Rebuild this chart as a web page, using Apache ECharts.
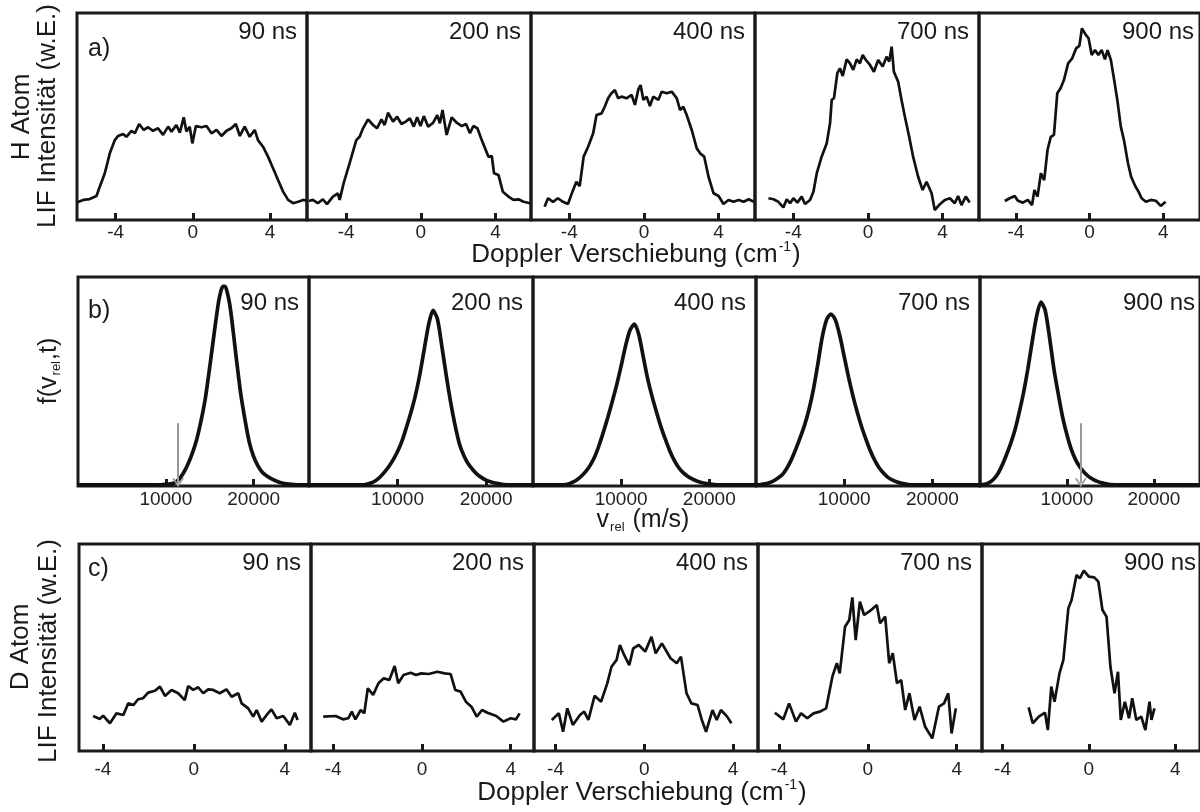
<!DOCTYPE html>
<html>
<head>
<meta charset="utf-8">
<script src="https://cdn.jsdelivr.net/npm/echarts@6/dist/echarts.min.js"></script>
<style>
  html, body { margin: 0; padding: 0; background: #fff; }
  #main { width: 1200px; height: 812px; }
</style>
</head>
<body>
<div id="main"></div>
<script>
var times = ['90 ns', '200 ns', '400 ns', '700 ns', '900 ns'];
var rowTags = ['a)', 'b)', 'c)'];
var dopplerTicks = [-4, 0, 4];
var velTicks = [10000, 20000];

// a) H atom LIF profiles: [Doppler shift (cm-1), intensity (a.u.)]
var hAtom90 = [[-6.0,8.5],[-5.68,9.7],[-5.34,10.1],[-4.99,11.6],[-4.82,16.1],[-4.56,22.6],[-4.3,32.2],[-4.04,38.6],[-3.87,40.6],[-3.61,41.5],[-3.44,40.2],[-3.18,43.1],[-3.0,41.9],[-2.78,46.4],[-2.54,43.5],[-2.32,44.8],[-2.06,43.1],[-1.8,44.3],[-1.54,41.1],[-1.28,45.1],[-1.1,42.7],[-0.85,45.9],[-0.67,42.2],[-0.47,49.6],[-0.33,42.7],[-0.16,45.1],[-0.02,37],[0.16,45.4],[0.45,44.8],[0.71,45.4],[0.97,41.9],[1.23,43.5],[1.49,40.6],[1.75,43.1],[2.0,44.3],[2.23,46.4],[2.44,40.6],[2.69,45.1],[2.95,40.2],[3.21,43.5],[3.38,38.6],[3.64,35.4],[3.9,30.6],[4.16,25],[4.42,19.3],[4.68,13.7],[4.94,9.7],[5.2,8.1],[5.46,8.8],[5.72,9.7],[5.92,9.3]];
var hAtom200 = [[-6.0,9.2],[-5.79,9.7],[-5.52,8.1],[-5.25,10],[-5.03,7.7],[-4.71,11.3],[-4.45,12.9],[-4.35,9.7],[-4.14,17.7],[-3.82,27.4],[-3.46,38.6],[-3.28,40.2],[-3.1,44.3],[-2.83,48.6],[-2.56,45.9],[-2.35,44.3],[-2.11,48.6],[-1.94,45.9],[-1.76,51.8],[-1.49,47.5],[-1.27,49.9],[-1.04,46.4],[-0.81,47.5],[-0.59,49.1],[-0.38,45.1],[-0.2,49.6],[-0.02,45.4],[0.16,50.2],[0.39,45.1],[0.66,47],[0.88,50.7],[1.02,46.7],[1.16,53.1],[1.38,41.1],[1.65,49.6],[1.92,47],[2.19,45.4],[2.42,46.4],[2.63,41.9],[2.81,45.4],[3.03,44.3],[3.26,38.6],[3.44,34.6],[3.62,30.6],[3.8,30.9],[3.92,22.6],[4.16,21.7],[4.39,13.7],[4.69,11.3],[4.96,9.7],[5.23,10],[5.5,8.8],[5.86,8.1]];
var hAtom400 = [[-5.32,6.4],[-5.14,10.5],[-4.87,8.8],[-4.61,10.5],[-4.34,8.8],[-4.07,7.7],[-3.83,13.7],[-3.62,18.5],[-3.44,16.4],[-3.23,30.6],[-2.99,35.4],[-2.72,41.9],[-2.54,50.7],[-2.27,51.5],[-2.1,54.7],[-1.92,58.8],[-1.74,61.2],[-1.56,62.8],[-1.38,58.8],[-1.2,59.6],[-0.93,58.8],[-0.66,60.4],[-0.48,55.6],[-0.3,63.1],[-0.18,65.2],[-0.03,58],[0.14,59.6],[0.32,55.1],[0.5,59.6],[0.77,58],[0.95,62],[1.22,61.2],[1.49,62],[1.76,58.8],[1.94,53.1],[2.11,54.7],[2.29,50.7],[2.56,43.5],[2.83,34.6],[3.01,32.2],[3.23,30.6],[3.46,20.9],[3.73,12.9],[4.0,11.6],[4.26,7.7],[4.53,9.7],[4.8,8.8],[5.07,9.7],[5.34,8.8],[5.61,10],[5.88,8.8]];
var hAtom700 = [[-5.33,10.5],[-5.06,10],[-4.8,8.8],[-4.53,6.1],[-4.35,10],[-4.17,8.1],[-3.99,10.5],[-3.78,8.4],[-3.55,11.3],[-3.37,7.7],[-3.1,9.7],[-2.92,13.7],[-2.74,22.6],[-2.48,30.6],[-2.21,37],[-2.03,46.7],[-1.94,58],[-1.82,58.8],[-1.64,70.9],[-1.5,73.3],[-1.35,69.6],[-1.14,77.6],[-0.96,75.7],[-0.79,72.5],[-0.6,77.6],[-0.43,75.7],[-0.28,79.7],[-0.11,77.3],[0.11,74.9],[0.32,71.6],[0.55,77.3],[0.79,74.1],[1.0,78.9],[1.14,76.5],[1.27,83.7],[1.39,71.6],[1.62,66.8],[1.8,58],[1.98,49.9],[2.21,40.2],[2.42,30.6],[2.69,20.9],[2.93,14.5],[3.14,18.5],[3.41,12.9],[3.58,4.8],[3.81,7.2],[4.12,9.7],[4.39,10.5],[4.65,8.1],[4.83,11.6],[5.01,7.2],[5.24,11.3],[5.45,8.4]];
var hAtom900 = [[-4.6,9.2],[-4.33,10.5],[-4.06,11.6],[-3.89,9.3],[-3.62,8.4],[-3.35,9.7],[-3.12,7.2],[-2.99,14.5],[-2.82,11.3],[-2.64,22.6],[-2.46,19.3],[-2.28,33.8],[-2.1,40.2],[-1.93,41.1],[-1.75,61.2],[-1.57,63.6],[-1.39,67.6],[-1.16,75.7],[-0.95,77.9],[-0.73,82.9],[-0.55,84.1],[-0.41,92.6],[-0.2,89.4],[-0.05,87.8],[0.12,79.7],[0.3,82.1],[0.48,79.7],[0.66,82.1],[0.84,77.6],[0.98,82.1],[1.16,77.3],[1.34,67.6],[1.51,58],[1.7,45.1],[1.87,38.6],[2.09,27.4],[2.26,20.9],[2.48,16.4],[2.66,13.7],[2.83,10.5],[3.06,8.8],[3.33,9.7],[3.6,9.3],[3.87,6.8],[4.13,8.8]];

// b) velocity distributions f(v_rel, t): [v_rel (m/s), f]
var fVel90 = [[0,0.5],[2000,0.5],[4000,0.5],[6000,0.5],[8000,0.5],[9500,0.6],[10000,0.8],[10500,1],[11000,1.5],[11500,3.2],[12000,6.2],[12500,10.3],[13000,15.5],[13500,22],[14000,31],[14500,42],[15000,57],[15500,73],[16000,88],[16250,93],[16500,95.5],[16750,95.5],[17000,92.5],[17250,87.5],[17500,80],[18000,62],[18500,45],[19000,32],[19500,21],[20000,14],[20500,9.5],[21000,6.5],[21500,4.8],[22000,3.5],[22500,2.5],[23000,1.7],[23500,1.2],[24000,0.9],[24500,0.7],[25000,0.5],[26300,0.5]];
var fVel200 = [[0,0.5],[3000,0.5],[6000,0.5],[6500,0.8],[7000,1.4],[7500,2.5],[8000,4.2],[8500,6.5],[9000,9.2],[9500,12.5],[10000,16.5],[10500,21.5],[11000,28],[11500,35],[12000,43],[12500,53],[13000,65],[13500,77],[14000,84],[14500,80],[15000,67],[15500,53],[16000,40],[16500,29],[17000,20],[17500,14.5],[18000,10.5],[18500,7.8],[19000,5.6],[19500,4],[20000,2.8],[20500,2],[21000,1.4],[21500,1],[22000,0.7],[23000,0.5],[25300,0.5]];
var fVel400 = [[0,0.5],[3000,0.5],[3500,0.6],[4000,1],[4500,1.8],[5000,3],[5500,4.8],[6000,7],[6500,10],[7000,14],[7500,19.5],[8000,26],[8500,33],[9000,40.5],[9500,48.5],[10000,57.5],[10500,67],[11000,74.5],[11500,77.5],[12000,72.5],[12500,62],[13000,51.5],[13500,43],[14000,35.5],[14500,28.5],[15000,22.5],[15500,17],[16000,12.5],[16500,9],[17000,6.5],[17500,4.8],[18000,3.5],[18500,2.5],[19000,1.8],[19500,1.3],[20000,0.9],[21000,0.5],[25300,0.5]];
var fVel700 = [[0,0.5],[500,0.7],[1000,1],[1500,1.6],[2000,2.5],[2500,3.8],[3000,5.5],[3500,8.5],[4000,12.5],[4500,17.5],[5000,23],[5500,29],[6000,36.5],[6500,46],[7000,58],[7500,71],[8000,79.5],[8500,82.3],[9000,79.5],[9500,72],[10000,62],[10500,52],[11000,43],[11500,35],[12000,28],[12500,22],[13000,16.5],[13500,12],[14000,8.5],[14500,6],[15000,4],[15500,2.8],[16000,1.9],[16500,1.3],[17000,0.9],[17500,0.6],[18000,0.5],[25300,0.5]];
var fVel900 = [[0,0.5],[500,0.8],[1000,1.5],[1500,3],[2000,5.5],[2500,9.5],[3000,14.5],[3500,20],[4000,26.5],[4500,35],[5000,44.5],[5500,56],[6000,69],[6500,81],[7000,88],[7500,84],[8000,71],[8500,56],[9000,44],[9500,33],[10000,24.5],[10500,17.5],[11000,12.5],[11500,9],[12000,6.5],[12500,4.5],[13000,3.2],[13500,2.2],[14000,1.5],[14500,1],[15000,0.7],[16000,0.5],[25300,0.5]];
var arrowVel = [11400, 11600];   // gray arrows in the first and last b) panel

// c) D atom LIF profiles: [Doppler shift (cm-1), intensity (a.u.)]
var dAtom90 = [[-4.43,16.9],[-4.13,15.5],[-3.99,17.1],[-3.69,13.4],[-3.4,18.2],[-3.1,17.4],[-2.89,23],[-2.66,22.2],[-2.45,25],[-2.23,25.5],[-2.01,28.2],[-1.71,29.1],[-1.49,31.1],[-1.27,26.6],[-0.98,29.5],[-0.69,27.9],[-0.4,24.6],[-0.25,31.4],[-0.03,29.5],[0.19,30.8],[0.41,27.9],[0.63,29.8],[0.85,29.5],[1.14,27.9],[1.43,29.8],[1.66,26.2],[1.95,27.9],[2.1,23],[2.39,20.6],[2.61,16.6],[2.76,19.8],[2.98,14.2],[3.2,17.4],[3.41,20.1],[3.64,15.8],[3.93,16.9],[4.22,12.6],[4.44,18.5],[4.56,15]];
var dAtom200 = [[-4.45,16.6],[-3.89,16.9],[-3.56,15.3],[-3.32,15.8],[-3.16,19],[-3.0,15.3],[-2.76,19.8],[-2.6,18.2],[-2.44,30.3],[-2.2,27.1],[-1.96,32.7],[-1.72,35.1],[-1.47,34.3],[-1.23,41.1],[-1.07,32.7],[-0.83,36.7],[-0.51,37.8],[-0.27,36.7],[-0.03,37.5],[0.3,37.2],[0.7,38.3],[1.02,37.5],[1.29,37.2],[1.5,29.5],[1.74,28.7],[1.98,23.8],[2.23,21.4],[2.47,16.6],[2.71,19.8],[2.95,18.5],[3.35,16.9],[3.67,14.2],[4.0,15.8],[4.24,15.3],[4.4,18.2]];
var dAtom400 = [[-4.17,15],[-3.85,18.2],[-3.66,9.3],[-3.47,20.6],[-3.22,12.6],[-2.9,17.4],[-2.71,19],[-2.52,15],[-2.24,26.7],[-1.95,23.8],[-1.67,32.7],[-1.48,40.7],[-1.25,44],[-1.1,51.2],[-0.91,46.4],[-0.68,41.5],[-0.5,49.6],[-0.25,51.2],[0.04,48],[0.32,55.2],[0.51,47.2],[0.79,52],[1.18,44.8],[1.46,42.4],[1.65,45.6],[1.9,27.9],[2.12,23],[2.4,22.2],[2.59,15],[2.78,9.3],[3.07,19.8],[3.26,15],[3.45,19.8],[3.73,16.6],[3.92,13.4]];
var dAtom700 = [[-4.19,18.5],[-3.81,15.3],[-3.55,23],[-3.24,14.2],[-3.01,18.2],[-2.73,15.8],[-2.45,18.2],[-2.16,19],[-1.88,20.6],[-1.6,35.9],[-1.4,42.4],[-1.27,37.5],[-1.03,60],[-0.84,63.3],[-0.7,74.2],[-0.55,53.6],[-0.36,72.1],[-0.17,65.7],[0.11,67.8],[0.4,70.5],[0.55,61.7],[0.78,64.9],[0.96,42.4],[1.12,47.2],[1.31,32.7],[1.5,34.3],[1.68,19.8],[1.87,27.9],[2.1,15],[2.33,21.4],[2.58,11.7],[2.9,6.1],[3.2,21.4],[3.43,23],[3.62,27.9],[3.77,8.5],[3.96,20.6]];
var dAtom900 = [[-2.79,21.1],[-2.6,13.4],[-2.32,16.6],[-2.03,18.5],[-1.9,10.1],[-1.74,31.1],[-1.59,23.8],[-1.36,37.5],[-1.18,44],[-0.95,68.9],[-0.8,72.9],[-0.57,85],[-0.42,83.4],[-0.23,87.1],[0,84.2],[0.25,83.9],[0.44,81.8],[0.63,68.1],[0.82,64.9],[1.0,40.7],[1.19,27.9],[1.35,38.3],[1.48,15],[1.67,23.8],[1.86,15.8],[2.01,25.5],[2.2,15],[2.43,16.6],[2.62,10.1],[2.81,23.8],[2.9,15],[3.04,20.6]];

var hAtom = [hAtom90, hAtom200, hAtom400, hAtom700, hAtom900];
var fVel = [fVel90, fVel200, fVel400, fVel700, fVel900];
var dAtom = [dAtom90, dAtom200, dAtom400, dAtom700, dAtom900];

var FONT = '"Liberation Sans", Arial, Helvetica, sans-serif';
var INK = '#1a1a1a';

// panel frames, one entry per row
var rows = [
  { top: 13, height: 207, lefts: [77, 307, 531, 755, 979], end: 1204, data: hAtom, ticks: dopplerTicks,
    xr: [[-6, 5.92], [-6.1, 5.9], [-6.05, 5.95], [-6.05, 5.95], [-6, 6]], labelMargin: 3, lw: 2.7, tagY: 49, timeY: 32 },
  { top: 277, height: 209, lefts: [78, 309, 533, 756, 980], end: 1205, data: fVel, ticks: velTicks,
    xr: [[0, 26300], [0, 25300], [0, 25300], [0, 25400], [0, 25300]], labelMargin: 4, lw: 3.7, tagY: 311, timeY: 303 },
  { top: 544, height: 207, lefts: [79, 311, 534, 758, 982], end: 1206, data: dAtom, ticks: dopplerTicks,
    xr: [[-5.05, 5.15], [-5, 5.05], [-4.97, 5.12], [-4.95, 5.14], [-4.95, 5.15]], labelMargin: 9, lw: 2.7, tagY: 569, timeY: 563 }
];

var grid = [], xAxis = [], yAxis = [], series = [], graphic = [];
var arrowHead = 'path://M6,0L12,9L10,9L6,3L2,9L0,9Z';

rows.forEach(function (row, r) {
  for (var p = 0; p < 5; p++) {
    var idx = grid.length;
    var left = row.lefts[p];
    var right = p < 4 ? row.lefts[p + 1] : row.end;
    grid.push({
      left: left, top: row.top, width: right - left, height: row.height,
      show: true, borderColor: INK, borderWidth: 3, backgroundColor: 'transparent'
    });
    xAxis.push({
      type: 'value', gridIndex: idx, min: row.xr[p][0], max: row.xr[p][1],
      splitLine: { show: false },
      axisLine: { show: false },
      axisTick: { show: true, inside: true, length: 7, customValues: row.ticks,
        lineStyle: { color: INK, width: 3 } },
      axisLabel: { show: true, customValues: row.ticks, margin: row.labelMargin,
        fontFamily: FONT, fontSize: 19, color: '#222',
        formatter: function (v) { return String(v); } }
    });
    yAxis.push({ type: 'value', gridIndex: idx, min: 0, max: 100, show: false });

    var s = {
      type: 'line', xAxisIndex: idx, yAxisIndex: idx, data: row.data[p],
      symbol: 'none', smooth: r === 1 ? 0.25 : false,
      lineStyle: { color: '#111', width: row.lw }, silent: true
    };
    if (r === 1 && (p === 0 || p === 4)) {
      var v = arrowVel[p === 0 ? 0 : 1];
      s.markLine = {
        silent: true, symbol: ['none', arrowHead], symbolSize: [12, 9],
        label: { show: false },
        lineStyle: { color: '#999', width: 2, type: 'solid' },
        data: [[{ coord: [v, 30] }, { coord: [v, 1.5] }]]
      };
    }
    series.push(s);

    graphic.push({
      type: 'text', x: right - 10, y: row.timeY,
      style: { text: times[p], font: '24px ' + FONT, fill: INK,
        textAlign: 'right', align: 'right', textVerticalAlign: 'middle', verticalAlign: 'middle' }
    });
  }
  graphic.push({
    type: 'text', x: 88, y: row.tagY,
    style: { text: rowTags[r], font: '25px ' + FONT, fill: INK,
      textAlign: 'left', align: 'left', textVerticalAlign: 'middle', verticalAlign: 'middle' }
  });
});

function vtext(txt, x, y, rich) {
  return {
    type: 'text', x: x, y: y, rotation: Math.PI / 2,
    style: { text: txt, font: '26px ' + FONT, fill: INK, rich: rich,
      textAlign: 'center', align: 'center', textVerticalAlign: 'middle', verticalAlign: 'middle' }
  };
}
function htext(txt, x, y, rich) {
  return {
    type: 'text', x: x, y: y,
    style: { text: txt, font: '26px ' + FONT, fill: INK, rich: rich,
      textAlign: 'center', align: 'center', textVerticalAlign: 'middle', verticalAlign: 'middle' }
  };
}

var supRich = {
  a: { fontFamily: FONT, fontSize: 26, fill: INK, color: INK, lineHeight: 29 },
  s: { fontFamily: FONT, fontSize: 14, fill: INK, color: INK, lineHeight: 29, verticalAlign: 'top', padding: [0, 1, 0, 1] }
};
var subRich = {
  a: { fontFamily: FONT, fontSize: 25, fill: INK, color: INK, lineHeight: 28 },
  s: { fontFamily: FONT, fontSize: 13, fill: INK, color: INK, lineHeight: 28, verticalAlign: 'bottom', padding: [0, 1, 0, 1] }
};

graphic.push(vtext('H Atom', 22, 117));
graphic.push(vtext('LIF Intensität (w.E.)', 48, 116));
graphic.push(vtext('{a|f(v}{s|rel}{a|,t)}', 49, 371, subRich));
graphic.push(vtext('D Atom', 21, 647));
graphic.push(vtext('LIF Intensität (w.E.)', 49, 651));
graphic.push(htext('{a|Doppler Verschiebung (cm}{s|-1}{a|)}', 636, 255, supRich));
graphic.push(htext('{a|v}{s|rel}{a| (m/s)}', 643, 520, subRich));
graphic.push(htext('{a|Doppler Verschiebung (cm}{s|-1}{a|)}', 642, 793, supRich));

var chart = echarts.init(document.getElementById('main'));
chart.setOption({
  animation: false,
  backgroundColor: '#fff',
  grid: grid,
  xAxis: xAxis,
  yAxis: yAxis,
  series: series,
  graphic: graphic
});
</script>
</body>
</html>
